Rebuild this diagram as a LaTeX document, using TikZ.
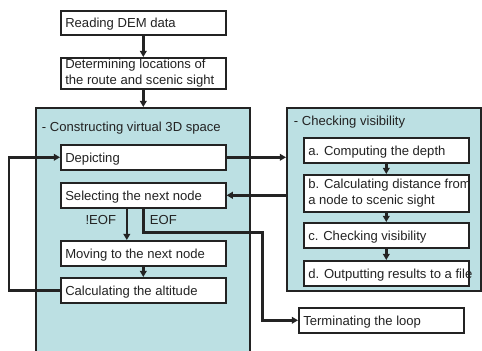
\documentclass[tikz,border=0pt]{standalone}
\usepackage{fontspec}
\setmainfont{Liberation Sans}
\usetikzlibrary{arrows.meta,calc}
\definecolor{panel}{RGB}{188,224,227}
\definecolor{ink}{RGB}{35,35,35}
\newcommand\steptext[1]{\hbox to 3.9cm{#1\hss}}

\begin{document}
\begin{tikzpicture}[x=0.025cm,y=-0.025cm,>={Triangle[length=4.4pt,width=4.8pt]},
  every node/.style={font=\fontsize{9.3}{11.4}\selectfont,text=ink},
  stepbox/.style={draw=ink,line width=1.1pt,fill=white,anchor=north west,inner xsep=0.1125cm,inner ysep=0pt,minimum width=4.125cm,minimum height=0.625cm,text height=8pt,text depth=0.8pt},
  twoline/.style={align=left,text height=,text depth=},
  panelbox/.style={draw=ink,line width=1.3pt,fill=panel,anchor=north west,inner sep=0pt},
  flow/.style={ink,line width=1.8pt,->}]
\useasboundingbox (0,0) rectangle (482,350);
% panels
\node[panelbox,minimum width=5.35cm,minimum height=6.6cm] (construct) at (35,107) {};
\node[anchor=west] (construct-l) at (37,128) {- Constructing virtual 3D space};
\node[panelbox,minimum width=4.85cm,minimum height=4.575cm] (check) at (286,107) {};
\node[anchor=west] (check-l) at (289,122) {- Checking visibility};
% main steps
\node[stepbox,minimum height=0.6cm] (read) at (60,10) {\steptext{Reading DEM data}};
\node[stepbox,twoline,minimum height=0.775cm] (determine) at (60,57) {\steptext{Determining locations of}\\\steptext{the route and scenic sight}};
\node[stepbox] (depict) at (60,144) {\steptext{Depicting}};
\node[stepbox] (select) at (60,182) {\steptext{Selecting the next node}};
\node[stepbox] (move) at (60,240) {\steptext{Moving to the next node}};
\node[stepbox] (calc) at (60,277) {\steptext{Calculating the altitude}};
\node[stepbox] (term) at (298,307) {\steptext{Terminating the loop}};
% visibility steps
\node[stepbox] (depth) at (303,137) {\steptext{a. Computing the depth}};
\node[stepbox,twoline,minimum height=0.925cm] (dist) at (303,174) {\steptext{b. Calculating distance from}\\\steptext{a node to scenic sight}};
\node[stepbox] (vis) at (303,222) {\steptext{c. Checking visibility}};
\node[stepbox] (output) at (303,260) {\steptext{d. Outputting results to a file}};
\node[anchor=east] (noteof) at (121,220) {!EOF};
\node[anchor=west] (eof) at (145,220) {EOF};
% connectors
\draw[flow] (read) -- (determine);
\draw[flow] (determine.south) -- (determine.south |- construct.north);
\draw[flow] (calc.west) -- ++(-51,0) |- (depict.west);
\draw[flow] (depict.east) -- (depict.east -| check.west);
\draw[flow] (check.west |- select.east) -- (select.east);
\draw[flow] ($(select.south)+(-16.5,0)$) -- ($(move.north)+(-16.5,0)$);
\draw[flow] (select.south) -- ++(0,24) -- ++(119,0) |- (term.west);
\draw[flow] (move) -- (calc);
\draw[flow] (depth) -- (dist);
\draw[flow] (dist) -- (vis);
\draw[flow] (vis) -- (output);
\end{tikzpicture}
\end{document}
